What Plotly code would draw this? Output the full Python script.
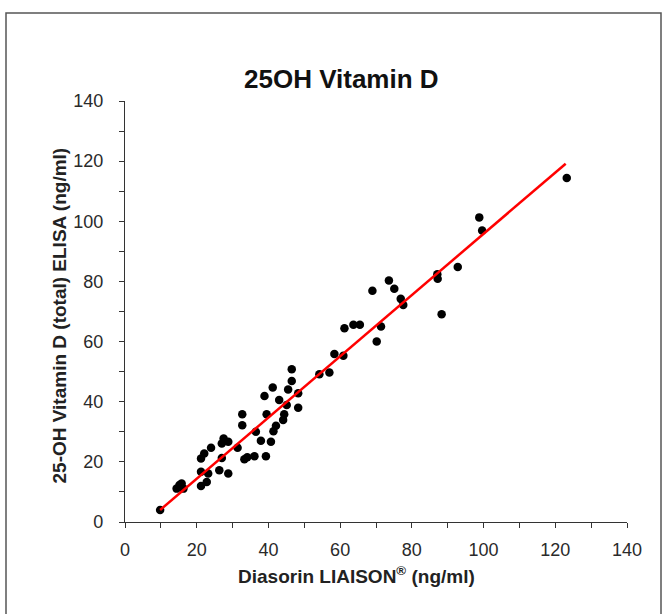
import plotly.graph_objects as go

liaison = [9.8, 14.4, 15.8, 16.3, 15.2, 21.2, 22.8, 21.2, 23.2, 21.2, 22.1, 24.0, 27.0, 28.8, 27.5,
           27.0, 26.3, 28.8, 31.4, 32.7, 32.7, 33.3, 34.1, 36.1, 36.5, 37.9, 39.3, 38.9, 39.5,
           41.2, 40.7, 41.4, 42.1, 43.0, 44.1, 44.4, 45.1, 45.5, 46.5, 46.5, 48.3, 48.3, 54.2,
           57.0, 58.4, 60.9, 61.2, 63.7, 65.5, 69.0, 70.2, 71.4, 73.6, 75.1, 76.9, 77.6, 87.1,
           87.2, 92.8, 88.3, 98.8, 99.6, 123.2]
elisa = [4.0, 11.1, 12.8, 11.1, 12.3, 12.0, 13.3, 16.7, 16.1, 21.1, 22.8, 24.7, 26.1, 26.7, 27.8,
         21.3, 17.2, 16.1, 24.7, 32.2, 35.8, 20.9, 21.5, 21.9, 30.0, 27.0, 21.9, 41.9, 35.8,
         44.7, 26.7, 30.2, 32.0, 40.6, 33.9, 35.8, 38.9, 44.1, 46.9, 50.8, 38.0, 42.8, 49.1,
         49.7, 55.9, 55.3, 64.4, 65.6, 65.6, 76.9, 60.0, 65.0, 80.3, 77.6, 74.2, 72.2, 82.4,
         80.9, 84.8, 69.1, 101.3, 96.9, 114.4]

fit_slope = 1.018
fit_intercept = -5.97
fit_x = [min(liaison), 122.9]
fit_y = [fit_slope * v + fit_intercept for v in fit_x]

x_ticks = [0, 20, 40, 60, 80, 100, 120, 140]
y_ticks = [0, 20, 40, 60, 80, 100, 120, 140]

# plot area in pixels
L, R, T, B = 125, 627, 101, 522
W, H = 667, 614

def px_x(px):
    return (px - L) / (R - L)

def px_y(py):
    return (B - py) / (B - T)

fig = go.Figure()
fig.add_trace(go.Scatter(x=liaison, y=elisa, mode="markers",
                         marker=dict(color="black", size=8.5), showlegend=False))
fig.add_trace(go.Scatter(x=fit_x, y=fit_y, mode="lines",
                         line=dict(color="#ff0000", width=2.5), showlegend=False))

axis_common = dict(showgrid=False, zeroline=False, showline=True, linecolor="#333333", linewidth=1.2,
                   ticks="outside", ticklen=5, tickcolor="#333333", automargin=False,
                   tickfont=dict(family="Liberation Sans, Arial", size=18, color="#2a2a2a"),
                   minor=dict(dtick=10, ticks="outside", ticklen=5, tickcolor="#333333"))

fig.update_xaxes(range=[0, 140], tickvals=x_ticks, ticklabelstandoff=6, **axis_common)
fig.update_yaxes(range=[0, 140], tickvals=y_ticks, ticklabelstandoff=12, **axis_common)

fig.update_layout(
    width=W, height=H,
    margin=dict(l=L, r=W - R, t=T, b=H - B),
    paper_bgcolor="white", plot_bgcolor="white",
    font=dict(family="Liberation Sans, Arial", color="#111111"),
    annotations=[
        dict(text="<b>25OH Vitamin D</b>", x=px_x(341), y=px_y(62), xref="paper", yref="paper",
             showarrow=False, font=dict(size=26, color="#111111")),
        dict(text="<b>Diasorin LIAISON<sup>®</sup> (ng/ml)</b>", x=px_x(356), y=px_y(589),
             xref="paper", yref="paper", showarrow=False, font=dict(size=19, color="#222222")),
        dict(text="<b>25-OH Vitamin D (total) ELISA (ng/ml)</b>", x=px_x(46), y=px_y(316),
             xref="paper", yref="paper", showarrow=False, textangle=-90,
             font=dict(size=19, color="#222222")),
    ],
    shapes=[dict(type="rect", xref="paper", yref="paper",
                 x0=px_x(6), x1=px_x(661), y0=px_y(640), y1=px_y(13),
                 line=dict(color="#555555", width=1.5), fillcolor="rgba(0,0,0,0)")],
)

fig.write_html("out.html", config={"displayModeBar": False},
               post_script="document.body.style.margin='0';document.body.style.padding='0';")
